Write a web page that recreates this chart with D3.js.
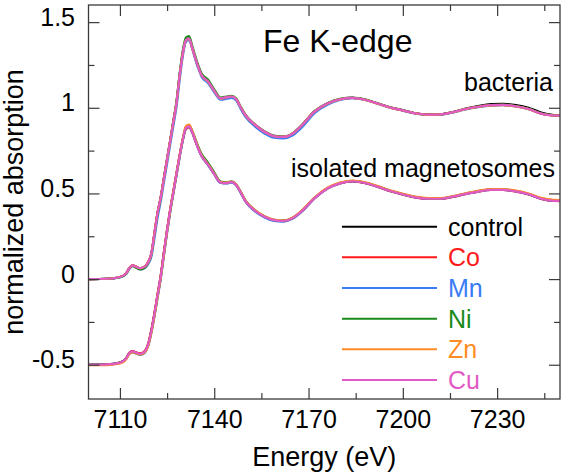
<!DOCTYPE html>
<html>
<head>
<meta charset="utf-8">
<script src="https://cdn.jsdelivr.net/npm/d3@7"></script>
<style>
  html, body { margin: 0; padding: 0; background: #fff; }
  svg { display: block; }
  text { font-family: "Liberation Sans", Arial, Helvetica, sans-serif; }
</style>
</head>
<body>
<svg id="chart" width="562" height="474"></svg>
<script>
// ---------------- DATA ----------------
const energy = [
  7100, 7106, 7110, 7112, 7113, 7114, 7115, 7116.5, 7118, 7119,
  7120, 7121, 7122, 7123, 7124, 7125, 7126, 7127, 7128, 7129,
  7130, 7131, 7132, 7133, 7134, 7135, 7136, 7138, 7140, 7142,
  7144, 7145.5, 7147, 7148.5, 7150, 7153, 7156, 7159, 7162, 7165,
  7168, 7172, 7176, 7180, 7184, 7188, 7192, 7196, 7200, 7204,
  7208, 7212, 7216, 7220, 7224, 7228, 7232, 7236, 7240, 7244,
  7248, 7250
];

const seriesNames = ["control", "Co", "Mn", "Ni", "Zn", "Cu"];
const seriesColors = ["#000000", "#ff1a1a", "#3a7cf5", "#1a8a1a", "#ff8c24", "#e25ac4"];

// bacteria
const bacControl = [
  0, 0.002, 0.012, 0.035, 0.065, 0.08, 0.073, 0.064, 0.075, 0.10,
  0.15, 0.27, 0.39, 0.48, 0.59, 0.70, 0.81, 0.92, 1.03, 1.19,
  1.32, 1.395, 1.405, 1.35, 1.29, 1.235, 1.19, 1.155, 1.10, 1.055,
  1.062, 1.066, 1.05, 1.0, 0.955, 0.90, 0.86, 0.835, 0.83, 0.85,
  0.90, 0.98, 1.025, 1.05, 1.058, 1.047, 1.025, 1.002, 0.985, 0.968,
  0.96, 0.962, 0.975, 0.995, 1.01, 1.021, 1.023, 1.016, 1.0, 0.972,
  0.958, 0.956
];
const bacCo = [
  0, 0.002, 0.012, 0.035, 0.065, 0.08, 0.073, 0.064, 0.075, 0.10,
  0.15, 0.27, 0.39, 0.48, 0.59, 0.70, 0.81, 0.92, 1.03, 1.19,
  1.32, 1.39, 1.40, 1.35, 1.29, 1.235, 1.19, 1.155, 1.10, 1.055,
  1.062, 1.066, 1.05, 1.0, 0.955, 0.90, 0.86, 0.835, 0.83, 0.85,
  0.90, 0.98, 1.025, 1.05, 1.058, 1.047, 1.025, 1.002, 0.985, 0.968,
  0.96, 0.962, 0.975, 0.993, 1.006, 1.015, 1.017, 1.009, 0.993, 0.966,
  0.955, 0.954
];
const bacMn = [
  0, 0.002, 0.01, 0.03, 0.058, 0.075, 0.068, 0.056, 0.066, 0.088,
  0.13, 0.24, 0.36, 0.455, 0.565, 0.675, 0.785, 0.895, 1.005, 1.16,
  1.30, 1.385, 1.395, 1.345, 1.28, 1.225, 1.18, 1.145, 1.09, 1.047,
  1.053, 1.058, 1.042, 0.99, 0.945, 0.89, 0.85, 0.825, 0.822, 0.84,
  0.888, 0.97, 1.018, 1.046, 1.056, 1.046, 1.024, 1.0, 0.983, 0.966,
  0.958, 0.96, 0.973, 0.991, 1.004, 1.013, 1.016, 1.008, 0.992, 0.965,
  0.955, 0.954
];
const bacNi = [
  0, 0.002, 0.011, 0.033, 0.062, 0.077, 0.068, 0.056, 0.068, 0.095,
  0.145, 0.265, 0.385, 0.478, 0.59, 0.70, 0.81, 0.925, 1.04, 1.20,
  1.335, 1.41, 1.418, 1.362, 1.30, 1.245, 1.20, 1.165, 1.108, 1.06,
  1.066, 1.07, 1.054, 1.003, 0.957, 0.902, 0.862, 0.837, 0.832, 0.852,
  0.902, 0.982, 1.027, 1.052, 1.06, 1.049, 1.026, 1.003, 0.986, 0.968,
  0.96, 0.962, 0.975, 0.993, 1.007, 1.016, 1.018, 1.01, 0.994, 0.967,
  0.956, 0.955
];
const bacZn = [
  0, 0.002, 0.012, 0.035, 0.064, 0.079, 0.072, 0.063, 0.074, 0.098,
  0.148, 0.268, 0.388, 0.478, 0.588, 0.698, 0.808, 0.918, 1.028, 1.185,
  1.318, 1.393, 1.402, 1.348, 1.288, 1.233, 1.188, 1.153, 1.098, 1.054,
  1.061, 1.066, 1.05, 1.0, 0.954, 0.9, 0.859, 0.834, 0.83, 0.85,
  0.9, 0.979, 1.024, 1.049, 1.057, 1.046, 1.024, 1.001, 0.984, 0.967,
  0.959, 0.961, 0.974, 0.992, 1.005, 1.014, 1.016, 1.008, 0.992, 0.965,
  0.955, 0.954
];
const bacCu = [
  0, 0.002, 0.012, 0.035, 0.065, 0.08, 0.073, 0.064, 0.075, 0.10,
  0.15, 0.27, 0.39, 0.48, 0.59, 0.70, 0.81, 0.92, 1.03, 1.19,
  1.32, 1.395, 1.405, 1.35, 1.29, 1.235, 1.19, 1.155, 1.10, 1.055,
  1.062, 1.066, 1.05, 1.0, 0.955, 0.90, 0.86, 0.835, 0.83, 0.85,
  0.90, 0.98, 1.025, 1.05, 1.058, 1.047, 1.025, 1.002, 0.985, 0.968,
  0.96, 0.962, 0.975, 0.993, 1.006, 1.015, 1.017, 1.009, 0.993, 0.966,
  0.955, 0.954
];

// isolated magnetosomes (offset -0.5)
const magControl = [
  -0.5, -0.498, -0.488, -0.462, -0.432, -0.422, -0.428, -0.436, -0.42, -0.38,
  -0.30, -0.20, -0.09, 0.02, 0.155, 0.285, 0.405, 0.51, 0.615, 0.72,
  0.815, 0.885, 0.895, 0.86, 0.81, 0.76, 0.72, 0.67, 0.615, 0.565,
  0.562, 0.568, 0.55, 0.505, 0.455, 0.40, 0.365, 0.345, 0.34, 0.357,
  0.40, 0.475, 0.53, 0.56, 0.572, 0.562, 0.54, 0.515, 0.495, 0.478,
  0.47, 0.47, 0.482, 0.498, 0.512, 0.522, 0.522, 0.513, 0.496, 0.47,
  0.458, 0.457
];
const magCo = [
  -0.5, -0.498, -0.488, -0.461, -0.43, -0.42, -0.427, -0.434, -0.418, -0.377,
  -0.296, -0.195, -0.085, 0.025, 0.16, 0.29, 0.41, 0.515, 0.62, 0.725,
  0.815, 0.875, 0.885, 0.855, 0.805, 0.757, 0.718, 0.668, 0.613, 0.563,
  0.56, 0.566, 0.548, 0.503, 0.452, 0.397, 0.362, 0.342, 0.338, 0.355,
  0.398, 0.473, 0.528, 0.558, 0.57, 0.56, 0.538, 0.513, 0.493, 0.476,
  0.468, 0.468, 0.48, 0.496, 0.51, 0.52, 0.52, 0.511, 0.494, 0.468,
  0.456, 0.455
];
const magMn = [
  -0.5, -0.498, -0.489, -0.465, -0.437, -0.428, -0.434, -0.443, -0.428, -0.39,
  -0.315, -0.218, -0.108, 0.002, 0.137, 0.268, 0.39, 0.497, 0.603, 0.71,
  0.808, 0.88, 0.89, 0.855, 0.806, 0.756, 0.716, 0.666, 0.611, 0.561,
  0.558, 0.564, 0.546, 0.5, 0.45, 0.395, 0.36, 0.34, 0.336, 0.353,
  0.396, 0.472, 0.528, 0.559, 0.571, 0.561, 0.539, 0.514, 0.494, 0.477,
  0.469, 0.469, 0.481, 0.497, 0.511, 0.521, 0.521, 0.512, 0.495, 0.469,
  0.457, 0.456
];
const magNi = [
  -0.5, -0.498, -0.488, -0.463, -0.434, -0.425, -0.431, -0.44, -0.424, -0.385,
  -0.306, -0.207, -0.097, 0.013, 0.148, 0.279, 0.4, 0.506, 0.612, 0.718,
  0.815, 0.886, 0.897, 0.865, 0.818, 0.77, 0.73, 0.68, 0.623, 0.57,
  0.565, 0.57, 0.552, 0.507, 0.457, 0.402, 0.366, 0.346, 0.341, 0.358,
  0.401, 0.476, 0.531, 0.561, 0.573, 0.563, 0.541, 0.516, 0.496, 0.479,
  0.471, 0.471, 0.483, 0.499, 0.513, 0.523, 0.523, 0.514, 0.497, 0.471,
  0.459, 0.458
];
const magZn = [
  -0.503, -0.502, -0.493, -0.468, -0.438, -0.427, -0.432, -0.44, -0.426, -0.39,
  -0.312, -0.212, -0.1, 0.01, 0.145, 0.278, 0.4, 0.507, 0.613, 0.72,
  0.82, 0.893, 0.902, 0.866, 0.814, 0.763, 0.722, 0.671, 0.616, 0.566,
  0.563, 0.569, 0.552, 0.507, 0.457, 0.402, 0.367, 0.347, 0.342, 0.36,
  0.403, 0.478, 0.533, 0.563, 0.575, 0.565, 0.543, 0.518, 0.498, 0.481,
  0.473, 0.473, 0.485, 0.501, 0.515, 0.525, 0.526, 0.517, 0.5, 0.474,
  0.462, 0.461
];
const magCu = [
  -0.5, -0.498, -0.488, -0.462, -0.432, -0.422, -0.428, -0.436, -0.42, -0.38,
  -0.30, -0.20, -0.09, 0.02, 0.155, 0.285, 0.405, 0.51, 0.615, 0.72,
  0.815, 0.882, 0.892, 0.858, 0.808, 0.758, 0.719, 0.669, 0.614, 0.564,
  0.561, 0.567, 0.549, 0.504, 0.454, 0.399, 0.364, 0.344, 0.339, 0.356,
  0.399, 0.474, 0.529, 0.559, 0.571, 0.561, 0.539, 0.514, 0.494, 0.477,
  0.469, 0.469, 0.481, 0.497, 0.511, 0.521, 0.521, 0.512, 0.495, 0.469,
  0.457, 0.456
];

const xMajorTicks = [7110, 7140, 7170, 7200, 7230];
const xMinorTicks = [7125, 7155, 7185, 7215, 7245];
const yMajorTicks = [-0.5, 0, 0.5, 1, 1.5];
const yMinorTicks = [-0.25, 0.25, 0.75, 1.25];

const titleText = "Fe K-edge";
const groupLabels = ["bacteria", "isolated magnetosomes"];
const xTitle = "Energy (eV)";
const yTitle = "normalized absorption";

// ---------------- CHART ----------------
const bacteria = [bacControl, bacCo, bacMn, bacNi, bacZn, bacCu];
const magnetosomes = [magControl, magCo, magMn, magNi, magZn, magCu];

const svg = d3.select("#chart");
const L = 88.5, R = 560, T = 5, B = 399;

const x = d3.scaleLinear().domain([7100, 7250]).range([L, R]);
const y = d3.scaleLinear().domain([-0.7, 1.6]).range([B, T]);

const axisColor = "#3a3a3a";
const fontTick = 25;

svg.append("defs").append("clipPath").attr("id", "plotclip")
  .append("rect").attr("x", L).attr("y", T).attr("width", R - L).attr("height", B - T);

const line = d3.line()
  .x(d => x(d[0]))
  .y(d => y(d[1]))
  .curve(d3.curveMonotoneX);

const plot = svg.append("g").attr("clip-path", "url(#plotclip)");
[bacteria, magnetosomes].forEach(group => {
  group.forEach((vals, i) => {
    plot.append("path")
      .datum(energy.map((e, k) => [e, vals[k]]))
      .attr("d", line)
      .attr("fill", "none")
      .attr("stroke", seriesColors[i])
      .attr("stroke-width", 2.2)
      .attr("stroke-linejoin", "round");
  });
});

// axes (ticks inward on all four sides)
function addAxis(axisGen, transform) {
  const g = svg.append("g").attr("transform", transform).call(axisGen);
  g.select(".domain").remove();
  g.selectAll("line").attr("stroke", axisColor).attr("stroke-width", 1.2);
  return g;
}
// bottom
const bMaj = addAxis(d3.axisBottom(x).tickValues(xMajorTicks).tickSize(-11).tickFormat(d3.format("d")), `translate(0,${B})`);
bMaj.selectAll("text").attr("font-size", fontTick).attr("fill", "#000")
  .attr("y", 0).attr("dy", 0).attr("transform", "translate(0,29)")
  .style("font-family", '"Liberation Sans", Arial, sans-serif');
addAxis(d3.axisBottom(x).tickValues(xMinorTicks).tickSize(-6).tickFormat(""), `translate(0,${B})`);
// top
addAxis(d3.axisTop(x).tickValues(xMajorTicks).tickSize(-11).tickFormat(""), `translate(0,${T})`);
addAxis(d3.axisTop(x).tickValues(xMinorTicks).tickSize(-6).tickFormat(""), `translate(0,${T})`);
// left
const lMaj = addAxis(d3.axisLeft(y).tickValues(yMajorTicks).tickSize(-11).tickFormat(d => String(d)), `translate(${L},0)`);
lMaj.selectAll("text").attr("font-size", fontTick).attr("fill", "#000")
  .attr("x", 75 - L).attr("dy", "0.16em").attr("text-anchor", "end")
  .style("font-family", '"Liberation Sans", Arial, sans-serif');
lMaj.selectAll("text").attr("transform", "translate(0,-1)");
addAxis(d3.axisLeft(y).tickValues(yMinorTicks).tickSize(-6).tickFormat(""), `translate(${L},0)`);
// right
addAxis(d3.axisRight(y).tickValues(yMajorTicks).tickSize(-11).tickFormat(""), `translate(${R},0)`);
addAxis(d3.axisRight(y).tickValues(yMinorTicks).tickSize(-6).tickFormat(""), `translate(${R},0)`);

// frame
svg.append("rect").attr("x", L).attr("y", T).attr("width", R - L).attr("height", B - T)
  .attr("fill", "none").attr("stroke", axisColor).attr("stroke-width", 1.3);

// titles
svg.append("text").attr("x", (L + R) / 2).attr("y", 466).attr("text-anchor", "middle")
  .attr("font-size", 27).text(xTitle);
svg.append("text").attr("transform", `translate(23,${(T + B) / 2}) rotate(-90)`)
  .attr("text-anchor", "middle").attr("font-size", 27).text(yTitle);

// in-plot labels
svg.append("text").attr("x", 263).attr("y", 52).attr("font-size", 32).text(titleText);
svg.append("text").attr("x", 553).attr("y", 91).attr("text-anchor", "end").attr("font-size", 25).text(groupLabels[0]);
svg.append("text").attr("x", 555).attr("y", 177).attr("text-anchor", "end").attr("font-size", 25).text(groupLabels[1]);

// legend
const legendRowY = d3.scaleLinear().domain([0, 5]).range([226.7, 380]);
seriesNames.forEach((name, i) => {
  const yy = legendRowY(i);
  svg.append("line").attr("x1", 342).attr("x2", 437).attr("y1", yy).attr("y2", yy)
    .attr("stroke", seriesColors[i]).attr("stroke-width", 2);
  svg.append("text").attr("x", 448).attr("y", yy + 9).attr("font-size", 25)
    .attr("fill", seriesColors[i]).text(name);
});
</script>
</body>
</html>
